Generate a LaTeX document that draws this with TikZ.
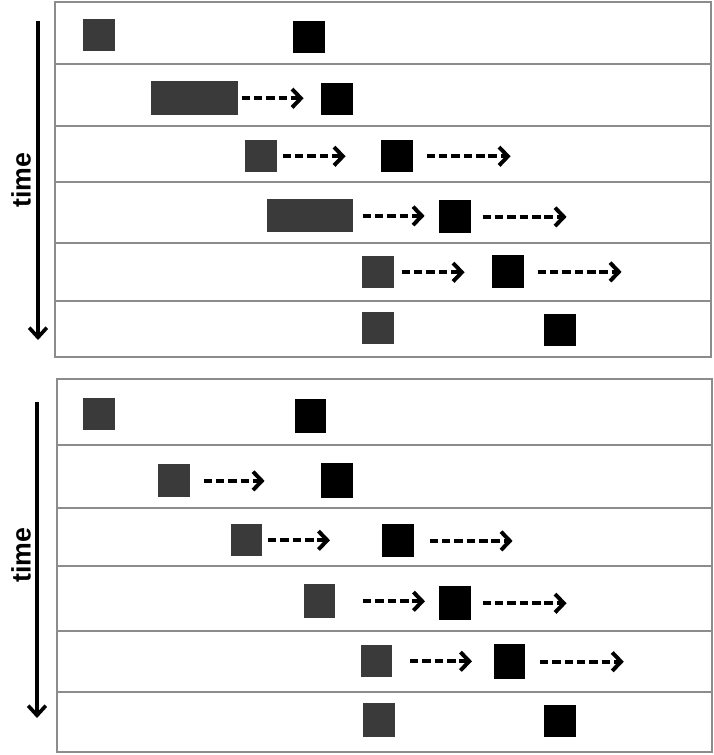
\documentclass[tikz,border=0pt]{standalone}
\usepackage{fontspec}
\setmainfont{Liberation Sans}
\usepackage{xcolor}
\usepackage{tikz}
\usetikzlibrary{arrows.meta}
\definecolor{slotGray}{HTML}{3A3A3A}
\definecolor{frameGray}{HTML}{8C8C8C}
\tikzset{
    timeline/panel/.style={
        draw=frameGray, line width=1.1pt
    },
    timeline/divider/.style={
        draw=frameGray, line width=1.1pt
    },
    timeline/early/.style={
        rectangle, anchor=north west, fill=slotGray, draw=none,
        inner sep=0pt, minimum width=0.8cm, minimum height=0.8cm
    },
    timeline/late/.style={
        timeline/early, fill=black
    },
    timeline/shift/.style={
        draw=black, line width=3pt, dash pattern=on 6pt off 2.8pt,
        -{Straight Barb[length=2.2mm,width=4.6mm,line width=2.8pt]}
    },
    timeline/axis/.style={
        draw=black, line width=2.6pt,
        -{Straight Barb[length=2.4mm,width=4.4mm,line width=2.6pt]}
    },
    timeline/label/.style={
        font=\fontsize{19}{22}\selectfont\bfseries, rotate=90, inner sep=0pt
    }
}
\begin{document}
\begin{tikzpicture}[x=0.025cm, y=-0.025cm]
    \useasboundingbox (0,0) rectangle (714,755);

    % upper panel
    \draw[timeline/panel] (55,2) rectangle (711,357);
    \foreach \y in {64,126,182,243,301}
        \draw[timeline/divider] (55,\y) -- (711,\y);

    \coordinate (aTop) at (38,21);
    \coordinate (aEnd) at (38,340);
    \draw[timeline/axis] (aTop) -- (aEnd);
    \node[timeline/label] (aTime) at (21,180) {time};

    \node[timeline/early] (aG1) at (83,19) {};
    \node[timeline/late] (aB1) at (293,21) {};
    \node[timeline/early, minimum width=2.175cm, minimum height=0.85cm] (aG2) at (151,81) {};
    \node[timeline/late] (aB2) at (321,83) {};
    \node[timeline/early] (aG3) at (245,140) {};
    \node[timeline/late] (aB3) at (381,140) {};
    \node[timeline/early, minimum width=2.15cm, minimum height=0.83cm] (aG4) at (267,199) {};
    \node[timeline/late, minimum height=0.83cm] (aB4) at (439,200) {};
    \node[timeline/early] (aG5) at (362,256) {};
    \node[timeline/late, minimum height=0.83cm] (aB5) at (492,255) {};
    \node[timeline/early] (aG6) at (362,312) {};
    \node[timeline/late] (aB6) at (544,314) {};

    \draw[timeline/shift] (aG2.east) ++(3,0) -- ++(62,0);
    \draw[timeline/shift] (aG3.east) ++(5,0) -- ++(63,0);
    \draw[timeline/shift] (aB3.east) ++(13,0) -- ++(84,0);
    \draw[timeline/shift] (aG4.east) ++(9,0) -- ++(62,0);
    \draw[timeline/shift] (aB4.east) ++(11,0) -- ++(84,0);
    \draw[timeline/shift] (aG5.east) ++(7,0) -- ++(63,0);
    \draw[timeline/shift] (aB5.east) ++(13,0) -- ++(84,0);

    % lower panel
    \draw[timeline/panel] (57,379) rectangle (712,752);
    \foreach \y in {445,508,566,631,692}
        \draw[timeline/divider] (57,\y) -- (712,\y);

    \coordinate (bTop) at (37,402);
    \coordinate (bEnd) at (37,718);
    \draw[timeline/axis] (bTop) -- (bEnd);
    \node[timeline/label] (bTime) at (21,555) {time};

    \node[timeline/early] (bG1) at (83,398) {};
    \node[timeline/late, minimum width=0.78cm, minimum height=0.85cm] (bB1) at (295,399) {};
    \node[timeline/early, minimum height=0.83cm] (bG2) at (158,464) {};
    \node[timeline/late, minimum height=0.86cm] (bB2) at (321,463) {};
    \node[timeline/early, minimum width=0.76cm] (bG3) at (231,524) {};
    \node[timeline/late, minimum height=0.83cm] (bB3) at (382,524) {};
    \node[timeline/early, minimum width=0.76cm, minimum height=0.85cm] (bG4) at (304,584) {};
    \node[timeline/late, minimum height=0.85cm] (bB4) at (439,586) {};
    \node[timeline/early, minimum width=0.76cm] (bG5) at (361,645) {};
    \node[timeline/late, minimum width=0.78cm, minimum height=0.87cm] (bB5) at (494,644) {};
    \node[timeline/early, minimum height=0.85cm] (bG6) at (363,703) {};
    \node[timeline/late] (bB6) at (544,705) {};

    \draw[timeline/shift] (bG2.east) ++(13,0) -- ++(61,0);
    \draw[timeline/shift] (bG3.east) ++(6,0) -- ++(62,0);
    \draw[timeline/shift] (bB3.east) ++(15,0) -- ++(83,0);
    \draw[timeline/shift] (bG4.east) ++(28,0) -- ++(62,0);
    \draw[timeline/shift] (bB4.east) ++(11,0) -- ++(84,0);
    \draw[timeline/shift] (bG5.east) ++(18,0) -- ++(62,0);
    \draw[timeline/shift] (bB5.east) ++(14,0) -- ++(84,0);
\end{tikzpicture}
\end{document}
